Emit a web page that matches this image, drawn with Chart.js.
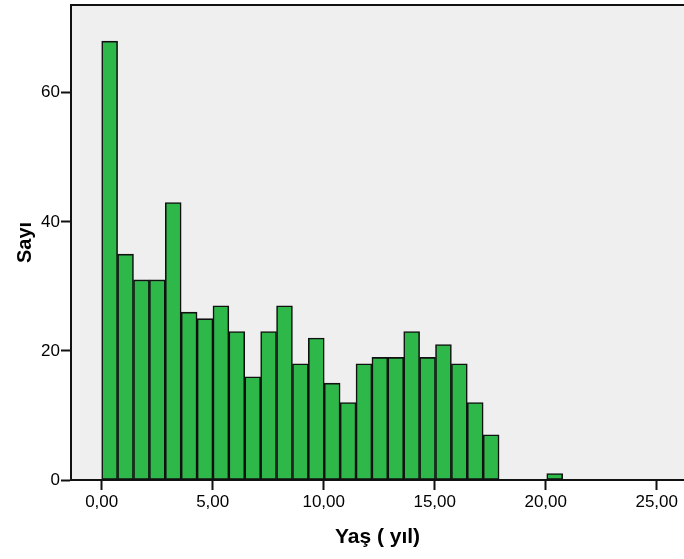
<!DOCTYPE html>
<html>
<head>
<meta charset="utf-8">
<script src="https://cdn.jsdelivr.net/npm/chart.js@4/dist/chart.umd.min.js"></script>
<style>
html,body{margin:0;padding:0;background:#fff;}
canvas{display:block;}
</style>
</head>
<body>
<canvas id="c" width="684" height="559"></canvas>
<script>
// Histogram data
const binWidth = 0.716;
const counts = [68,35,31,31,43,26,25,27,23,16,23,27,18,22,15,12,18,19,19,23,19,21,18,12,7,0,0,0,1];
const xTickValues = [0,5,10,15,20,25];
const yTickValues = [0,20,40,60];
const xTitle = 'Yaş ( yıl)';
const yTitle = 'Sayı';

const points = counts.map((c, i) => ({x: (i + 0.5) * binWidth, y: c === 0 ? null : c}));

const bgPlugin = {
  id: 'bg',
  beforeDraw(chart) {
    const {ctx, chartArea: a} = chart;
    ctx.save();
    ctx.fillStyle = '#EFEFEF';
    ctx.fillRect(a.left, a.top, a.right - a.left, a.bottom - a.top);
    ctx.restore();
  },
  afterDraw(chart) {
    const {ctx, chartArea: a} = chart;
    ctx.save();
    ctx.strokeStyle = '#111';
    ctx.lineWidth = 2;
    ctx.beginPath();
    ctx.moveTo(a.left, a.top);
    ctx.lineTo(a.right, a.top);
    ctx.stroke();
    ctx.restore();
  }
};

const font = {family: '"Liberation Sans", Arial, sans-serif', size: 17};

new Chart(document.getElementById('c'), {
  type: 'bar',
  data: {
    datasets: [{
      data: points,
      backgroundColor: '#2EB84A',
      borderColor: '#111',
      borderWidth: 1.6,
      borderSkipped: false,
      barPercentage: 1,
      categoryPercentage: 1
    }]
  },
  plugins: [bgPlugin],
  options: {
    responsive: false,
    animation: false,
    events: [],
    layout: {padding: {top: 5, right: 0, left: 0, bottom: 0}},
    plugins: {legend: {display: false}, tooltip: {enabled: false}},
    scales: {
      x: {
        type: 'linear',
        min: -1.383,
        max: 26.23,
        offset: false,
        afterBuildTicks(s) { s.ticks = xTickValues.map(v => ({value: v})); },
        afterFit(s) { s.height = 79; s.paddingLeft = 0; s.paddingRight = 0; },
        ticks: {
          font: font, color: '#000', padding: 2, maxRotation: 0,
          callback: v => v.toFixed(2).replace('.', ',')
        },
        grid: {offset: false, drawOnChartArea: false, drawTicks: true, tickLength: 10, tickColor: '#111', tickWidth: 2},
        border: {display: true, color: '#111', width: 2},
        title: {display: true, text: xTitle, color: '#000', font: {family: font.family, size: 21, weight: 'bold'}, padding: {top: 0, bottom: 9}}
      },
      y: {
        min: 0,
        max: 73.6,
        afterBuildTicks(s) { s.ticks = yTickValues.map(v => ({value: v})); },
        afterFit(s) { s.width = 71; s.paddingTop = 0; s.paddingBottom = 0; },
        ticks: {font: font, color: '#000', padding: 1},
        grid: {drawOnChartArea: false, drawTicks: true, tickLength: 10, tickColor: '#111', tickWidth: 2},
        border: {display: true, color: '#111', width: 2},
        title: {display: true, text: yTitle, color: '#000', font: {family: font.family, size: 20, weight: 'bold'}, padding: {top: 13, bottom: 0}}
      }
    }
  }
});
</script>
</body>
</html>
